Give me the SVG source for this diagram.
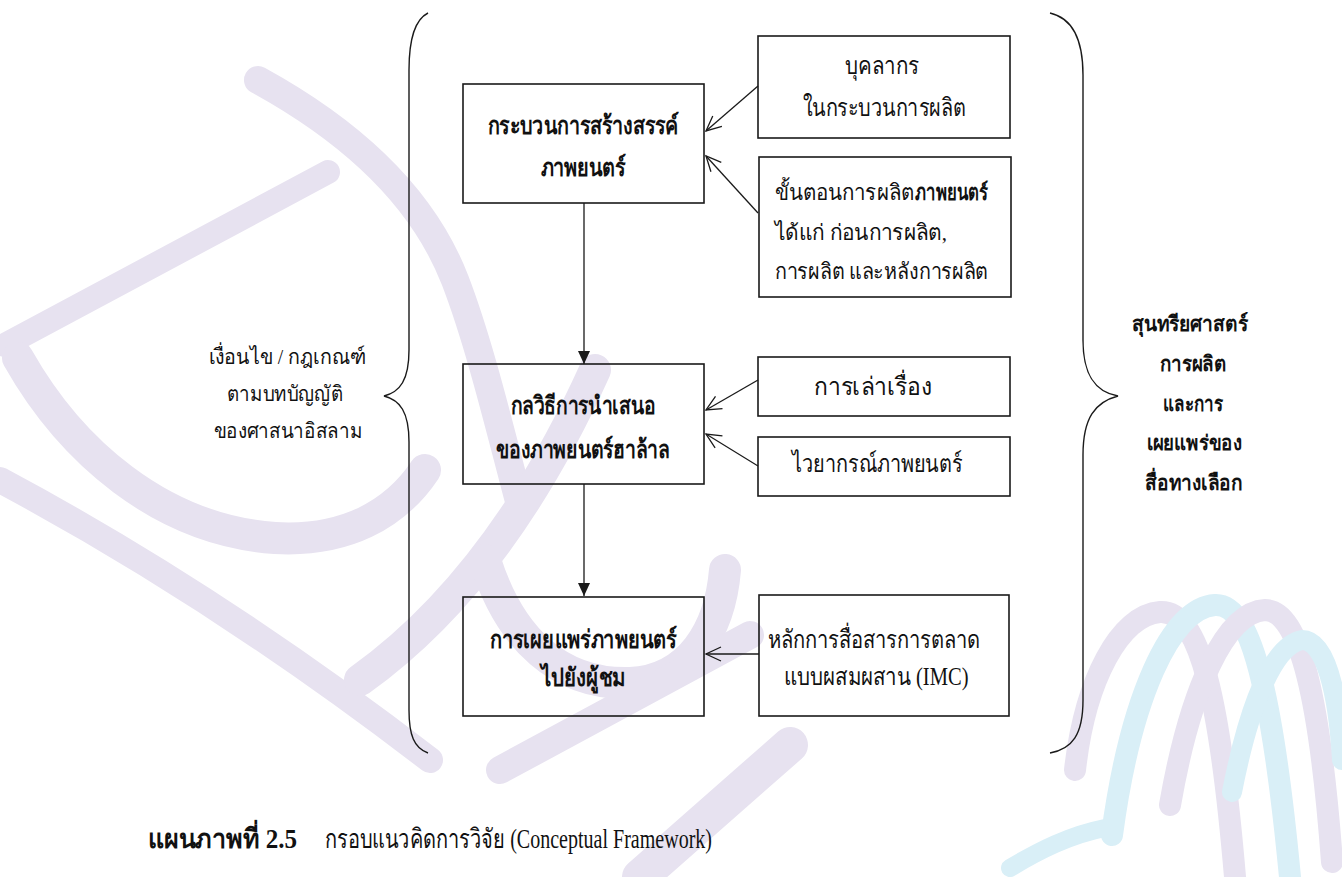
<svg xmlns="http://www.w3.org/2000/svg" width="1342" height="877" viewBox="0 0 1342 877">
<defs>
<style>
.box{fill:none;stroke:#1a1a1a;stroke-width:1.6}
.conn{fill:none;stroke:#1a1a1a;stroke-width:1.3}
.brace{fill:none;stroke:#1a1a1a;stroke-width:1.4}
.t{font-family:'Liberation Serif','Noto Sans','DejaVu Sans',serif;font-size:25px;fill:#111;text-anchor:middle}
.s{font-size:22px}
.b{font-weight:bold}
.l{text-anchor:start}
.side{font-family:'Liberation Serif','Noto Sans','DejaVu Sans',serif;font-size:21px;fill:#111;text-anchor:middle}
.cap{font-family:'Liberation Serif','Noto Sans','DejaVu Sans',serif;font-size:27px;fill:#111}
.wm{fill:none;stroke:#e7e2f0;stroke-linecap:round}
.wb{fill:none;stroke:#d9eff7;stroke-linecap:round}
</style>
<marker id="fill" markerWidth="14" markerHeight="14" refX="13" refY="6" orient="auto" markerUnits="userSpaceOnUse">
<path d="M0,0 L13,6 L0,12 Z" fill="#1a1a1a"/>
</marker>
<marker id="open" markerWidth="18" markerHeight="16" refX="16" refY="8" orient="auto" markerUnits="userSpaceOnUse">
<path d="M1,1 L16,8 L1,15" fill="none" stroke="#1a1a1a" stroke-width="1.3"/>
</marker>
</defs>
<rect width="1342" height="877" fill="#ffffff"/>

<g id="watermark">
<path class="wm" stroke-width="24" d="M5,345 L328,172"/>
<path class="wm" stroke-width="28" d="M258,80 C340,125 420,190 455,280 C480,345 500,430 520,505"/>
<path class="wm" stroke-width="32" d="M18,358 C70,450 160,530 275,538 C345,542 395,515 425,470"/>
<path class="wm" stroke-width="26" d="M0,480 C150,560 300,660 430,760"/>
<path class="wm" stroke-width="32" d="M360,680 Q500,580 595,370"/>
<path class="wm" stroke-width="32" d="M485,560 C510,640 560,685 630,683 C690,680 720,630 725,570"/>
<path class="wm" stroke-width="28" d="M500,770 L750,635"/>
<path class="wm" stroke-width="36" d="M640,877 L790,745"/>
<path class="wb" stroke-width="18" d="M1010,868 C1040,850 1070,835 1105,828"/>
<path class="wm" stroke-width="22" d="M1075,770 C1085,680 1120,615 1160,612 C1200,610 1220,700 1235,877"/>
<path class="wb" stroke-width="22" d="M1112,835 C1130,700 1170,608 1215,605 C1255,603 1275,720 1290,877"/>
<path class="wm" stroke-width="22" d="M1170,805 C1190,690 1225,612 1265,610 C1300,610 1320,700 1332,862"/>
<path class="wb" stroke-width="20" d="M1232,792 C1250,700 1275,645 1302,640 C1325,640 1338,690 1342,760"/>
</g>

<g id="braces">
<path class="brace" d="M428,13 C414,20 409,40 409,70 L409,350 C409,380 400,392 384,396 C400,400 409,412 409,442 L409,710 C409,735 414,748 428,753"/>
<path class="brace" d="M1050,13 C1072,18 1083,40 1083,75 L1083,340 C1083,375 1095,392 1118,396 C1095,402 1083,418 1083,455 L1083,700 C1083,735 1072,749 1050,753"/>
</g>

<g id="connectors">
<line class="conn" x1="584" y1="203" x2="584" y2="364" marker-end="url(#fill)"/>
<line class="conn" x1="584" y1="484" x2="584" y2="596" marker-end="url(#fill)"/>
<line class="conn" x1="758" y1="86" x2="706" y2="131" marker-end="url(#open)"/>
<line class="conn" x1="758" y1="213" x2="706" y2="156" marker-end="url(#open)"/>
<line class="conn" x1="758" y1="380" x2="706" y2="410" marker-end="url(#open)"/>
<line class="conn" x1="758" y1="466" x2="706" y2="434" marker-end="url(#open)"/>
<line class="conn" x1="759" y1="654" x2="706" y2="654" marker-end="url(#open)"/>
</g>

<g id="node-creation">
<rect class="box" x="463" y="84" width="241" height="119"/>
<text class="t b" x="583" y="134" textLength="191" lengthAdjust="spacingAndGlyphs">กระบวนการสร้างสรรค์</text>
<text class="t b" x="583" y="176" textLength="85" lengthAdjust="spacingAndGlyphs">ภาพยนตร์</text>
</g>

<g id="node-personnel">
<rect class="box" x="758" y="36" width="252" height="102"/>
<text class="t" x="882" y="74" textLength="74" lengthAdjust="spacingAndGlyphs">บุคลากร</text>
<text class="t" x="884" y="116" textLength="163" lengthAdjust="spacingAndGlyphs">ในกระบวนการผลิต</text>
</g>

<g id="node-steps">
<rect class="box" x="759" y="157" width="252" height="140"/>
<text class="t l s" x="775" y="200" textLength="139" lengthAdjust="spacingAndGlyphs">ขั้นตอนการผลิต</text>
<text class="t l s b" x="915" y="200" textLength="73" lengthAdjust="spacingAndGlyphs">ภาพยนตร์</text>
<text class="t l s" x="775" y="240" textLength="172" lengthAdjust="spacingAndGlyphs">ได้แก่ ก่อนการผลิต,</text>
<text class="t l s" x="775" y="279" textLength="213" lengthAdjust="spacingAndGlyphs">การผลิต และหลังการผลิต</text>
</g>

<g id="node-technique">
<rect class="box" x="463" y="364" width="241" height="120"/>
<text class="t b" x="583" y="414" textLength="145" lengthAdjust="spacingAndGlyphs">กลวิธีการนำเสนอ</text>
<text class="t b" x="583" y="458" textLength="174" lengthAdjust="spacingAndGlyphs">ของภาพยนตร์ฮาล้าล</text>
</g>

<g id="node-story">
<rect class="box" x="758" y="357" width="252" height="59"/>
<text class="t" x="873" y="395" textLength="118" lengthAdjust="spacingAndGlyphs">การเล่าเรื่อง</text>
</g>

<g id="node-grammar">
<rect class="box" x="758" y="437" width="252" height="59"/>
<text class="t" x="877" y="472" textLength="170" lengthAdjust="spacingAndGlyphs">ไวยากรณ์ภาพยนตร์</text>
</g>

<g id="node-distribution">
<rect class="box" x="463" y="597" width="241" height="119"/>
<text class="t b" x="583" y="648" textLength="187" lengthAdjust="spacingAndGlyphs">การเผยแพร่ภาพยนตร์</text>
<text class="t b" x="583" y="686" textLength="85" lengthAdjust="spacingAndGlyphs">ไปยังผู้ชม</text>
</g>

<g id="node-imc">
<rect class="box" x="759" y="595" width="250" height="121"/>
<text class="t" x="874" y="648" textLength="212" lengthAdjust="spacingAndGlyphs">หลักการสื่อสารการตลาด</text>
<text class="t" x="876" y="685" textLength="185" lengthAdjust="spacingAndGlyphs">แบบผสมผสาน (IMC)</text>
</g>

<g id="label-left">
<text class="side" x="287" y="364" textLength="157" lengthAdjust="spacingAndGlyphs">เงื่อนไข / กฎเกณฑ์</text>
<text class="side" x="285" y="401" textLength="116" lengthAdjust="spacingAndGlyphs">ตามบทบัญญัติ</text>
<text class="side" x="288" y="438" textLength="149" lengthAdjust="spacingAndGlyphs">ของศาสนาอิสลาม</text>
</g>

<g id="label-right">
<text class="side b" x="1190" y="331" textLength="116" lengthAdjust="spacingAndGlyphs">สุนทรียศาสตร์</text>
<text class="side b" x="1193" y="371" textLength="67" lengthAdjust="spacingAndGlyphs">การผลิต</text>
<text class="side b" x="1193" y="411" textLength="60" lengthAdjust="spacingAndGlyphs">และการ</text>
<text class="side b" x="1194" y="450" textLength="95" lengthAdjust="spacingAndGlyphs">เผยแพร่ของ</text>
<text class="side b" x="1194" y="490" textLength="98" lengthAdjust="spacingAndGlyphs">สื่อทางเลือก</text>
</g>

<g id="caption">
<text class="cap b" x="148" y="848" textLength="149" lengthAdjust="spacingAndGlyphs">แผนภาพที่ 2.5</text>
<text class="cap" x="325" y="848" textLength="387" lengthAdjust="spacingAndGlyphs">กรอบแนวคิดการวิจัย (Conceptual Framework)</text>
</g>
</svg>
